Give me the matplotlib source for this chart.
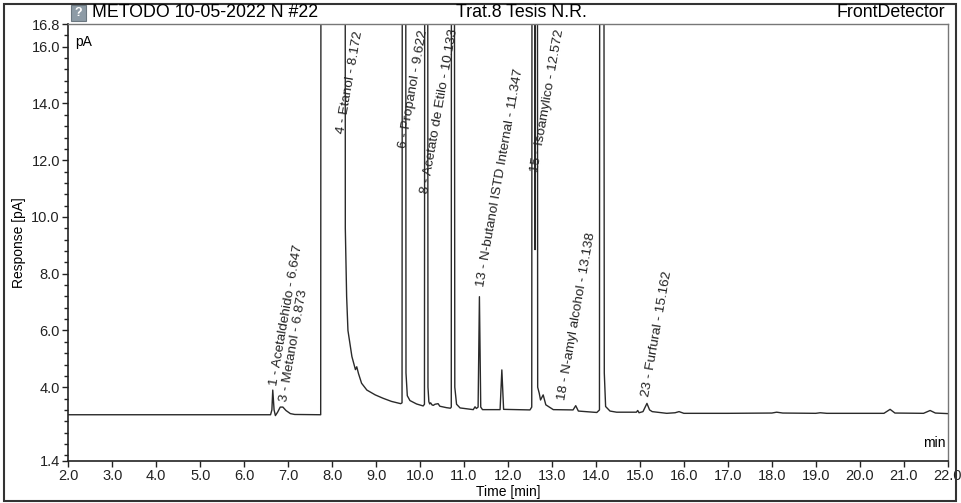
import matplotlib
matplotlib.use("Agg")
import matplotlib.pyplot as plt
from matplotlib.patches import Rectangle
import numpy as np

plt.rcParams['font.family'] = ['Liberation Sans', 'DejaVu Sans']

# ---- data ----
time_min = [2.0, 6.60, 6.63, 6.65, 6.68, 6.71, 6.76, 6.82, 6.88, 6.95, 7.05, 7.15,
            7.74, 7.76, 8.29, 8.30, 8.33, 8.36, 8.45, 8.53, 8.56, 8.60, 8.67, 8.79,
            8.98, 9.16, 9.35, 9.56, 9.59, 9.61, 9.66, 9.68, 9.71, 9.77, 9.92, 10.07,
            10.10, 10.12, 10.16, 10.18, 10.20, 10.22, 10.24, 10.27, 10.30, 10.34,
            10.41, 10.45, 10.60, 10.69, 10.71, 10.72, 10.76, 10.79, 10.83, 10.91,
            11.21, 11.25, 11.28, 11.32, 11.35, 11.38, 11.42, 11.82, 11.86, 11.90,
            12.50, 12.54, 12.56, 12.59, 12.615, 12.635, 12.655, 12.675, 12.71, 12.74,
            12.80, 12.86, 13.03, 13.48, 13.54, 13.60, 14.02, 14.08, 14.10, 14.16,
            14.19, 14.22, 14.32, 14.47, 14.92, 14.95, 14.98, 15.07, 15.16, 15.22,
            15.28, 15.61, 15.80, 15.89, 16.00, 17.00, 18.00, 18.11, 18.25, 19.00,
            19.10, 19.25, 20.55, 20.69, 20.80, 21.45, 21.60, 21.72, 22.0]
signal_pA = [3.03, 3.03, 3.20, 3.90, 3.20, 3.00, 3.12, 3.30, 3.30, 3.18, 3.07, 3.04,
             3.03, 60.0, 60.0, 9.60, 7.20, 6.00, 5.08, 4.62, 4.72, 4.48, 4.14, 3.90,
             3.73, 3.61, 3.50, 3.42, 3.45, 60.0, 60.0, 4.50, 3.70, 3.53, 3.41, 3.34,
             3.40, 60.0, 60.0, 4.00, 3.49, 3.41, 3.45, 3.38, 3.36, 3.40,
             3.42, 3.33, 3.28, 3.26, 3.30, 60.0, 60.0, 4.00, 3.40, 3.27,
             3.21, 3.31, 3.25, 3.30, 7.19, 3.30, 3.21, 3.21, 4.61, 3.22,
             3.20, 3.30, 60.0, 60.0, 8.85, 60.0, 60.0, 4.00, 3.79, 3.55,
             3.73, 3.38, 3.21, 3.20, 3.35, 3.16, 3.11, 3.20, 60.0, 60.0,
             4.50, 3.32, 3.16, 3.12, 3.12, 3.18, 3.10, 3.14, 3.43, 3.20,
             3.14, 3.08, 3.10, 3.14, 3.08, 3.08, 3.09, 3.12, 3.09, 3.08,
             3.10, 3.08, 3.08, 3.22, 3.09, 3.08, 3.18, 3.09, 3.07]

peak_labels = ["1 - Acetaldehido - 6.647", "3 - Metanol - 6.873", "4 - Etanol - 8.172",
               "6 - Propanol - 9.622", "8 - Acetato de Etilo - 10.133",
               "13 - N-butanol ISTD Internal - 11.347", "15 - Isoamylico - 12.572",
               "18 - N-amyl alcohol - 13.138", "23 - Furfural - 15.162"]
label_t = [6.67, 6.90, 8.20, 9.62, 10.11, 11.38, 12.62, 13.22, 15.15]
label_v = [4.05, 3.50, 12.95, 12.42, 10.83, 7.55, 11.60, 3.55, 3.67]

x_ticks = [2.0, 3.0, 4.0, 5.0, 6.0, 7.0, 8.0, 9.0, 10.0, 11.0, 12.0,
           13.0, 14.0, 15.0, 16.0, 17.0, 18.0, 19.0, 20.0, 21.0, 22.0]
y_ticks = [1.4, 4.0, 6.0, 8.0, 10.0, 12.0, 14.0, 16.0, 16.8]

W, H = 961, 503
fig = plt.figure(figsize=(W / 100, H / 100), dpi=100)
ax = fig.add_axes([68.3 / W, 1 - 461 / H, (947.7 - 68.3) / W, (461 - 24) / H])

ax.plot(time_min, signal_pA, color='#2a2a2a', lw=1.0)
ax.set_xlim(2.0, 22.0)
ax.set_ylim(1.4, 16.8)

ax.set_xticks(x_ticks)
ax.set_xticklabels([f"{v:.1f}" for v in x_ticks], fontsize=10.5)
ax.set_yticks(y_ticks)
ax.set_yticklabels([f"{v:.1f}" for v in y_ticks], fontsize=10.5)
ax.set_yticks(np.arange(1.6, 16.8, 0.4), minor=True)
ax.tick_params(axis='both', direction='out', length=4, width=1, pad=2, colors='#222')
ax.tick_params(axis='y', which='minor', length=3, width=1, colors='#222')

for s in ['top', 'right']:
    ax.spines[s].set_color('#777')
    ax.spines[s].set_linewidth(1.0)
for s in ['left', 'bottom']:
    ax.spines[s].set_color('#222')
    ax.spines[s].set_linewidth(1.2)

ax.set_xlabel("Time [min]", fontsize=10, labelpad=1)
ax.set_ylabel("Response [pA]", fontsize=10, labelpad=4)

ax.text(0.008, 0.975, "pA", transform=ax.transAxes, fontsize=10, va='top', ha='left')
ax.text(0.997, 0.025, "min", transform=ax.transAxes, fontsize=10, va='bottom', ha='right')

for lab, t, v in zip(peak_labels, label_t, label_v):
    ax.text(t, v, lab, rotation=80, rotation_mode='anchor', ha='left', va='center',
            fontsize=9.7, color='#222')

# header
fig.text(91.7 / W, 1 - 12.5 / H, "METODO 10-05-2022 N #22", fontsize=12.8,
         ha='left', va='center')
fig.text(521 / W, 1 - 12.5 / H, "Trat.8 Tesis N.R.", fontsize=12.8,
         ha='center', va='center')
fig.text(945 / W, 1 - 12.5 / H, "FrontDetector", fontsize=12.8,
         ha='right', va='center')
fig.patches.append(Rectangle((71 / W, 1 - 21 / H), 15 / W, 16 / H,
                             transform=fig.transFigure, facecolor='#8d9ba6',
                             edgecolor='#6b7780', lw=0.8))
fig.text(78.5 / W, 1 - 13 / H, "?", fontsize=9, color='white', ha='center',
         va='center', fontweight='bold')

# outer frame
fig.patches.append(Rectangle((3.5 / W, 2.5 / H), 952 / W, 497 / H,
                             transform=fig.transFigure, facecolor='none',
                             edgecolor='#333', lw=1.5))

fig.savefig("out.png", dpi=100)
